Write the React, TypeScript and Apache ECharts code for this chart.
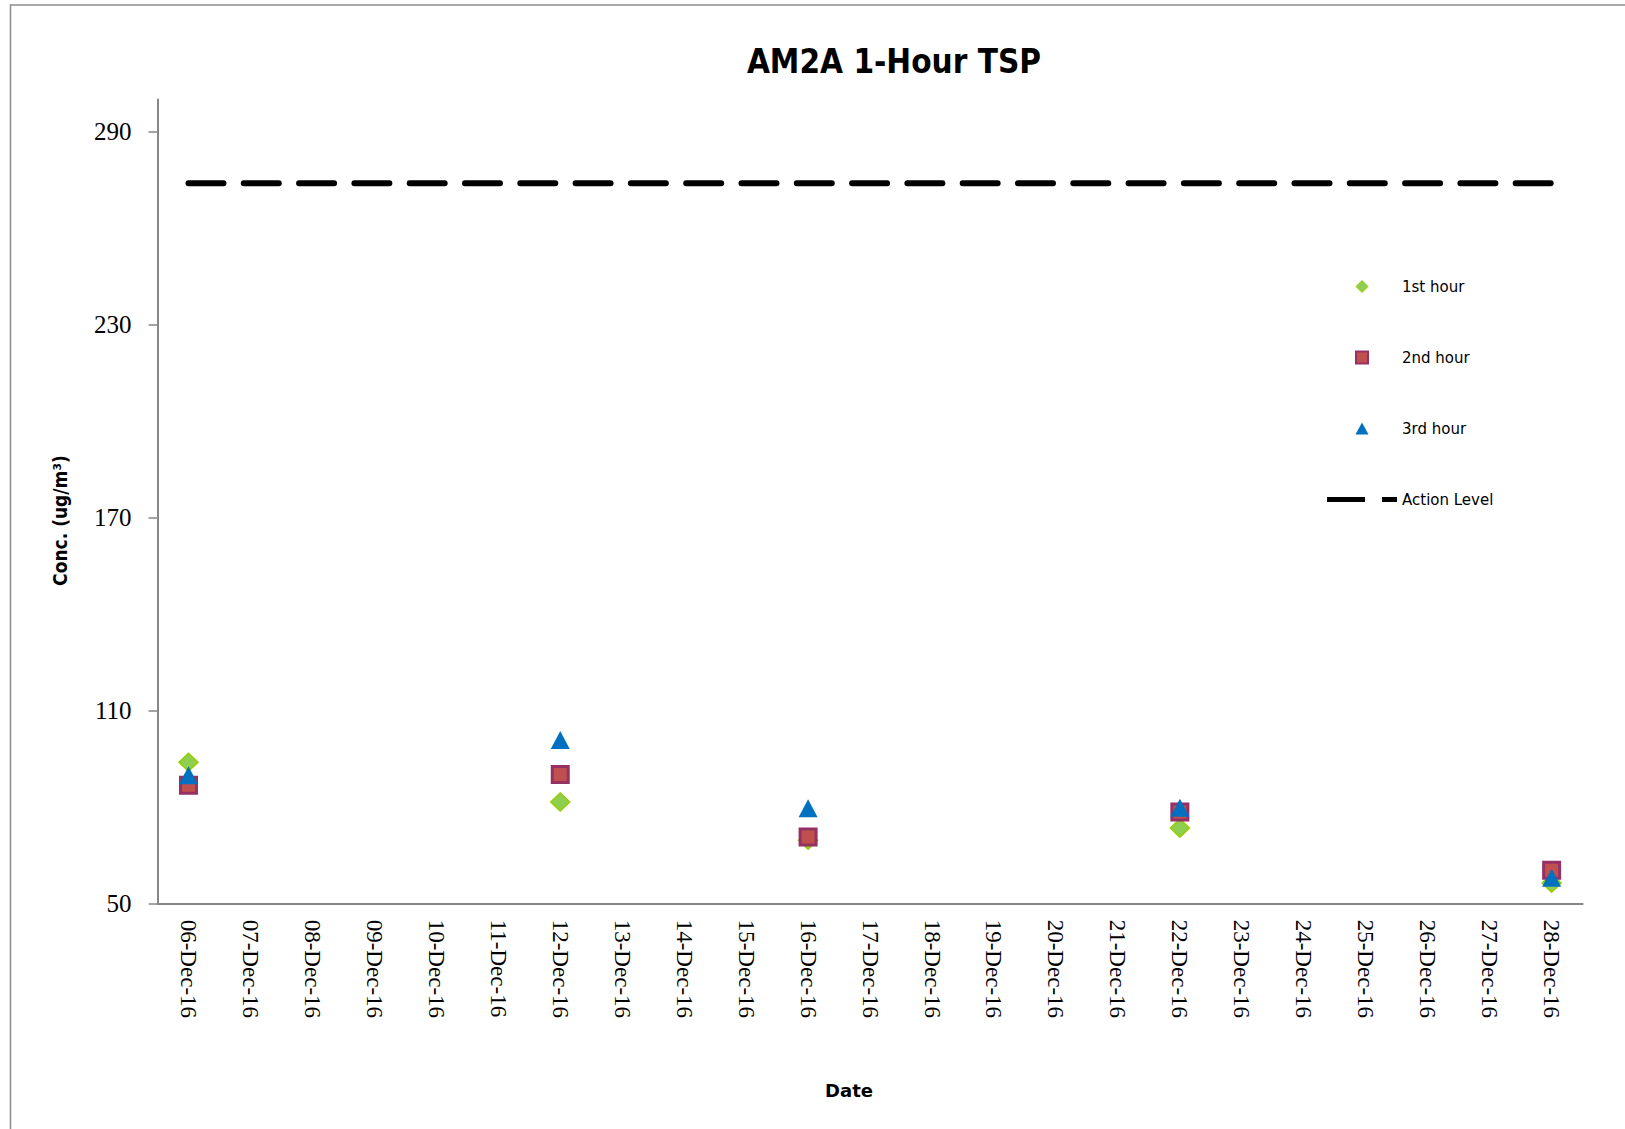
import React, { useEffect, useRef } from 'react';
import * as echarts from 'echarts';

const dates = [
  '06-Dec-16', '07-Dec-16', '08-Dec-16', '09-Dec-16', '10-Dec-16', '11-Dec-16',
  '12-Dec-16', '13-Dec-16', '14-Dec-16', '15-Dec-16', '16-Dec-16', '17-Dec-16',
  '18-Dec-16', '19-Dec-16', '20-Dec-16', '21-Dec-16', '22-Dec-16', '23-Dec-16',
  '24-Dec-16', '25-Dec-16', '26-Dec-16', '27-Dec-16', '28-Dec-16',
];
const sampleDates = ['06-Dec-16', '12-Dec-16', '16-Dec-16', '22-Dec-16', '28-Dec-16'];
const hour1 = [94.0, 81.6, 69.7, 73.5, 56.4];
const hour2 = [86.8, 90.2, 70.7, 78.5, 60.4];
const hour3 = [89.9, 100.9, 79.7, 79.8, 58.1];
const actionLevel = 274;
const yTicks = [50, 110, 170, 230, 290];

const AXIS_GREY = '#868686';

export default function App() {
  const ref = useRef<HTMLDivElement>(null);
  useEffect(() => {
    document.body.style.margin = '0';
    if (!ref.current) return;
    const chart = echarts.init(ref.current, null, { renderer: 'svg' });
    const option: any = {
      animation: false,
      backgroundColor: '#ffffff',
      title: {
        text: 'AM2A 1-Hour TSP',
        left: 889,
        top: 40,
        textAlign: 'center',
        textStyle: {
          fontFamily: "'DejaVu Sans Condensed', 'Liberation Sans Narrow', 'DejaVu Sans'",
          fontWeight: 'bold',
          fontSize: 33,
          color: '#000',
        },
      },
      graphic: [
        {
          type: 'rect',
          silent: true,
          shape: { x: 10.5, y: 5, width: 1700, height: 1200 },
          style: { fill: 'none', stroke: '#8c8c8c', lineWidth: 1.5 },
        },
      ],
      legend: {
        orient: 'vertical',
        left: 1322,
        top: 273.5,
        itemWidth: 70,
        itemHeight: 12,
        itemGap: 55,
        symbolKeepAspect: true,
        textStyle: { fontFamily: 'DejaVu Sans', fontSize: 15, color: '#000', lineHeight: 16 },
        data: [
          { name: '1st hour', icon: 'path://M6,0L12,6L6,12L0,6Z', itemStyle: { borderWidth: 1 } },
          { name: '2nd hour', icon: 'path://M0,0H12V12H0Z', itemStyle: { borderWidth: 2 } },
          { name: '3rd hour', icon: 'path://M6,0L12,11H0Z' },
          {
            name: 'Action Level',
            icon: 'path://M0,0H38V5H0ZM55,0H70V5H55Z',
            itemStyle: { color: '#000', borderWidth: 0 },
          },
        ],
      },
      grid: { left: 157.5, right: 42.4, top: 99.5, bottom: 225.3, containLabel: false },
      xAxis: {
        type: 'category',
        data: dates,
        boundaryGap: true,
        axisLine: { show: true, lineStyle: { color: AXIS_GREY, width: 2 } },
        axisTick: { show: false },
        axisLabel: {
          interval: 0,
          rotate: -90,
          margin: 16,
          fontFamily: 'Liberation Serif',
          fontSize: 23,
          color: '#000',
        },
        name: 'Date',
        nameLocation: 'middle',
        nameGap: 178,
        nameTextStyle: {
          fontFamily: 'DejaVu Sans',
          fontWeight: 'bold',
          fontSize: 18,
          color: '#000',
          padding: [0, 42, 0, 0],
        },
      },
      yAxis: {
        type: 'value',
        min: 50,
        max: 300,
        axisLine: { show: true, lineStyle: { color: AXIS_GREY, width: 2 } },
        axisTick: { show: true, length: 9, customValues: yTicks, lineStyle: { color: AXIS_GREY, width: 1.5 } },
        axisLabel: {
          customValues: yTicks,
          margin: 26,
          fontFamily: 'Liberation Serif',
          fontSize: 25,
          color: '#000',
        },
        splitLine: { show: false },
        name: 'Conc. (ug/m³)',
        nameLocation: 'middle',
        nameRotate: 90,
        nameGap: 88,
        nameTextStyle: {
          fontFamily: "'DejaVu Sans Condensed', 'Liberation Sans Narrow', 'DejaVu Sans'",
          fontWeight: 'bold',
          fontSize: 19,
          color: '#000',
          padding: [0, 38, 0, 0],
        },
      },
      series: [
        {
          name: '1st hour',
          type: 'scatter',
          symbol: 'diamond',
          symbolSize: [19, 18],
          data: sampleDates.map((d, i) => [d, hour1[i]]),
          itemStyle: { color: '#8FCF4F', borderColor: '#99CC00', borderWidth: 1.5, opacity: 1 },
        },
        {
          name: '2nd hour',
          type: 'scatter',
          symbol: 'rect',
          symbolSize: 16,
          data: sampleDates.map((d, i) => [d, hour2[i]]),
          itemStyle: { color: '#C0504D', borderColor: '#953163', borderWidth: 3, opacity: 1 },
        },
        {
          name: '3rd hour',
          type: 'scatter',
          symbol: 'triangle',
          symbolSize: [19, 18],
          data: sampleDates.map((d, i) => [d, hour3[i]]),
          itemStyle: { color: '#0070C0', opacity: 1 },
        },
        {
          name: 'Action Level',
          type: 'line',
          data: dates.map(() => actionLevel),
          symbol: 'none',
          itemStyle: { color: '#000' },
          lineStyle: { color: '#000', width: 6, type: [35, 20.3], cap: 'round' },
        },
      ],
    };
    chart.setOption(option);
    return () => chart.dispose();
  }, []);
  return <div ref={ref} style={{ width: 1625, height: 1129 }} />;
}
